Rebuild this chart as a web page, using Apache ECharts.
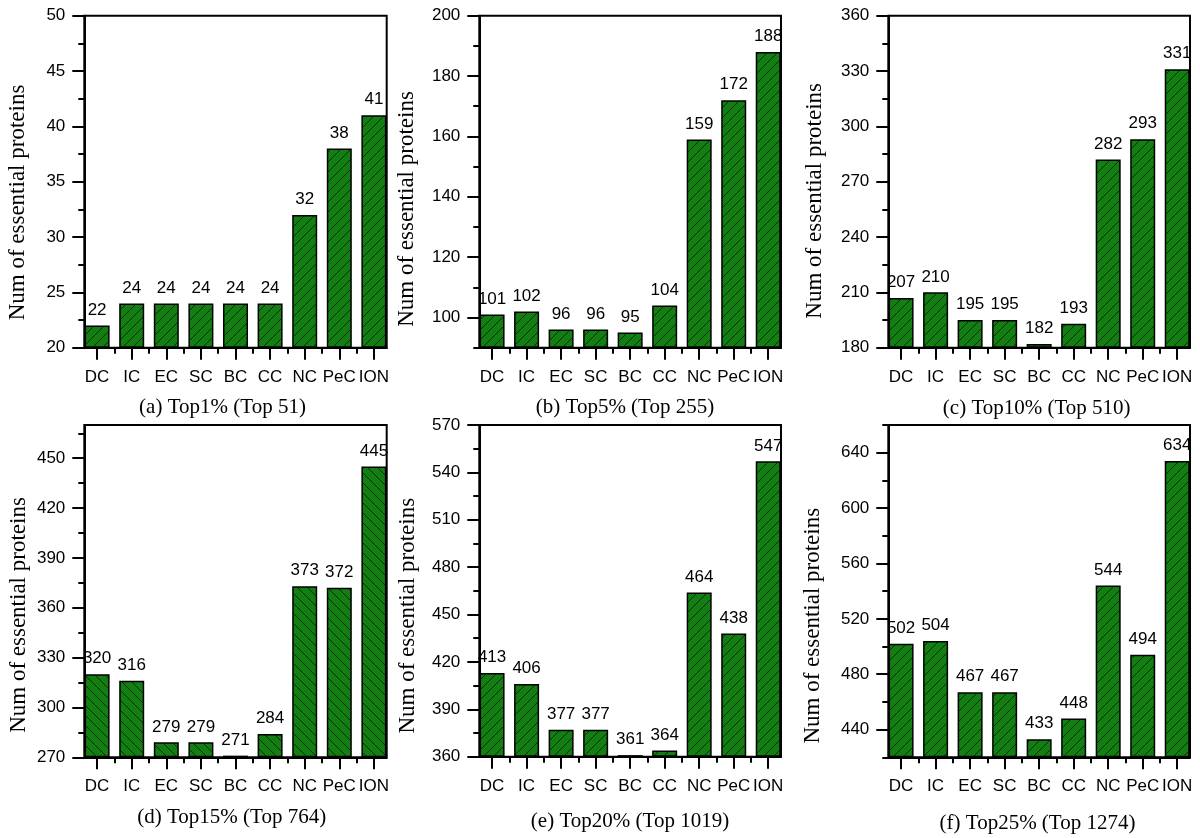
<!DOCTYPE html>
<html>
<head>
<meta charset="utf-8">
<script src="https://cdn.jsdelivr.net/npm/echarts@6/dist/echarts.min.js"></script>
<style>
html,body{margin:0;padding:0;background:#fff;}
#chart{width:1200px;height:838px;}
</style>
</head>
<body>
<div id="chart"></div>
<script>
// ---------------- data ----------------
const categories = ['DC', 'IC', 'EC', 'SC', 'BC', 'CC', 'NC', 'PeC', 'ION'];

const valuesTop1  = [22, 24, 24, 24, 24, 24, 32, 38, 41];
const valuesTop5  = [101, 102, 96, 96, 95, 104, 159, 172, 188];
const valuesTop10 = [207, 210, 195, 195, 182, 193, 282, 293, 331];
const valuesTop15 = [320, 316, 279, 279, 271, 284, 373, 372, 445];
const valuesTop20 = [413, 406, 377, 377, 361, 364, 464, 438, 547];
const valuesTop25 = [502, 504, 467, 467, 433, 448, 544, 494, 634];

const yTicksTop1  = [20, 25, 30, 35, 40, 45, 50];
const yTicksTop5  = [100, 120, 140, 160, 180, 200];
const yTicksTop10 = [180, 210, 240, 270, 300, 330, 360];
const yTicksTop15 = [270, 300, 330, 360, 390, 420, 450];
const yTicksTop20 = [360, 390, 420, 450, 480, 510, 540, 570];
const yTicksTop25 = [440, 480, 520, 560, 600, 640];

const yMinorTop1  = [22.5, 27.5, 32.5, 37.5, 42.5, 47.5];
const yMinorTop5  = [90, 110, 130, 150, 170, 190];
const yMinorTop10 = [195, 225, 255, 285, 315, 345];
const yMinorTop15 = [285, 315, 345, 375, 405, 435, 465];
const yMinorTop20 = [375, 405, 435, 465, 495, 525, 555];
const yMinorTop25 = [420, 460, 500, 540, 580, 620, 660];

const panelTitles = [
  '(a) Top1% (Top 51)', '(b) Top5% (Top 255)', '(c) Top10% (Top 510)',
  '(d) Top15% (Top 764)', '(e) Top20% (Top 1019)', '(f) Top25% (Top 1274)'
];
const yAxisTitle = 'Num of essential proteins';

// ---------------- layout / style ----------------
const panels = [
  {vals: valuesTop1,  ticks: yTicksTop1,  minor: yMinorTop1,  min: 20,  max: 50,  hatch: 1,
   grid: {left: 84.3, top: 15.7, width: 302.4, height: 332}, sub: [222.5, 407], ytl: [17.5, 202.5]},
  {vals: valuesTop5,  ticks: yTicksTop5,  minor: yMinorTop5,  min: 90,  max: 200, hatch: 1,
   grid: {left: 479.3, top: 15.7, width: 301.7, height: 332}, sub: [625, 407], ytl: [406.7, 209]},
  {vals: valuesTop10, ticks: yTicksTop10, minor: yMinorTop10, min: 180, max: 360, hatch: 1,
   grid: {left: 888.3, top: 15.7, width: 301.7, height: 332}, sub: [1036.7, 408], ytl: [815, 200.8]},
  {vals: valuesTop15, ticks: yTicksTop15, minor: yMinorTop15, min: 270, max: 470, hatch: -1,
   grid: {left: 84.3, top: 425, width: 302.4, height: 332.3}, sub: [231.7, 817], ytl: [19, 615]},
  {vals: valuesTop20, ticks: yTicksTop20, minor: yMinorTop20, min: 360, max: 570, hatch: 1,
   grid: {left: 479.3, top: 425, width: 301.7, height: 331.7}, sub: [630, 821.7], ytl: [407.5, 615.7]},
  {vals: valuesTop25, ticks: yTicksTop25, minor: yMinorTop25, min: 420, max: 660, hatch: 1,
   grid: {left: 888.3, top: 425, width: 301.7, height: 332.3}, sub: [1037.5, 823], ytl: [813.3, 625.7]}
];

const SANS = '"Liberation Sans", Arial, sans-serif';
const SERIF = '"Liberation Serif", "Times New Roman", serif';
const BAR_GREEN = '#137f13';
const FS = 17;

function makePattern(dir) {
  const s = 10;
  const c = document.createElement('canvas');
  c.width = s; c.height = s;
  const g = c.getContext('2d');
  g.fillStyle = BAR_GREEN;
  g.fillRect(0, 0, s, s);
  g.strokeStyle = '#0a300a';
  g.lineWidth = 1;
  g.beginPath();
  if (dir > 0) {
    g.moveTo(-1, s + 1); g.lineTo(s + 1, -1);
    g.moveTo(-1, 1); g.lineTo(1, -1);
    g.moveTo(s - 1, s + 1); g.lineTo(s + 1, s - 1);
  } else {
    g.moveTo(-1, -1); g.lineTo(s + 1, s + 1);
    g.moveTo(s - 1, -1); g.lineTo(s + 1, 1);
    g.moveTo(-1, s - 1); g.lineTo(1, s + 1);
  }
  g.stroke();
  return c;
}
const patFwd = makePattern(1);
const patBack = makePattern(-1);

const xPos = categories.map((c, i) => i + 1);
const xMinor = categories.slice(1).map((c, i) => i + 1.5);
const X_MIN = 0.63, X_MAX = 9.37;

const grids = [], xAxes = [], yAxes = [], series = [], graphics = [];
const lineStyle = {color: '#000', width: 2};

panels.forEach((p, i) => {
  grids.push(Object.assign({show: true, borderColor: '#000', borderWidth: 2,
    backgroundColor: 'transparent'}, p.grid));

  xAxes.push({
    type: 'value', gridIndex: i, position: 'bottom', min: X_MIN, max: X_MAX,
    axisLine: {show: true, onZero: false, lineStyle: lineStyle},
    axisTick: {show: true, customValues: xPos, length: 12, lineStyle: lineStyle},
    axisLabel: {show: true, customValues: xPos, margin: 21,
      formatter: v => categories[Math.round(v) - 1],
      fontSize: FS, color: '#000', fontFamily: SANS},
    splitLine: {show: false}
  });
  xAxes.push({
    type: 'value', gridIndex: i, position: 'bottom', min: X_MIN, max: X_MAX,
    axisLine: {show: false, onZero: false},
    axisTick: {show: true, customValues: xMinor, length: 6, lineStyle: lineStyle},
    axisLabel: {show: false},
    splitLine: {show: false}
  });

  yAxes.push({
    type: 'value', gridIndex: i, position: 'left', min: p.min, max: p.max, startValue: p.min,
    axisLine: {show: true, onZero: false, lineStyle: lineStyle},
    axisTick: {show: true, customValues: p.ticks, length: 12, lineStyle: lineStyle},
    axisLabel: {show: true, customValues: p.ticks, margin: 19,
      fontSize: FS, color: '#000', fontFamily: SANS},
    splitLine: {show: false}
  });
  yAxes.push({
    type: 'value', gridIndex: i, position: 'left', min: p.min, max: p.max,
    axisLine: {show: false, onZero: false},
    axisTick: {show: true, customValues: p.minor, length: 6, lineStyle: lineStyle},
    axisLabel: {show: false},
    splitLine: {show: false}
  });

  series.push({
    type: 'bar',
    xAxisIndex: 2 * i,
    yAxisIndex: 2 * i,
    barWidth: 25,
    clip: true,
    data: p.vals.map((v, k) => [xPos[k], v]),
    itemStyle: {
      color: {image: p.hatch > 0 ? patFwd : patBack, repeat: 'repeat'},
      borderColor: '#000', borderWidth: 1.5
    },
    label: {
      show: true, position: 'top', distance: 7,
      formatter: d => String(d.value[1]),
      fontSize: FS, color: '#000', fontFamily: SANS
    }
  });

  graphics.push({
    type: 'text', x: p.sub[0], y: p.sub[1],
    style: {text: panelTitles[i], fill: '#000', font: '21px ' + SERIF,
      align: 'center', verticalAlign: 'middle'}
  });
  graphics.push({
    type: 'text', x: p.ytl[0], y: p.ytl[1], rotation: Math.PI / 2,
    style: {text: yAxisTitle, fill: '#000', font: '23px ' + SERIF,
      align: 'center', verticalAlign: 'middle'}
  });
});

const chart = echarts.init(document.getElementById('chart'), null, {renderer: 'canvas'});
chart.setOption({
  animation: false,
  backgroundColor: '#fff',
  grid: grids,
  xAxis: xAxes,
  yAxis: yAxes,
  series: series,
  graphic: graphics
});
</script>
</body>
</html>
